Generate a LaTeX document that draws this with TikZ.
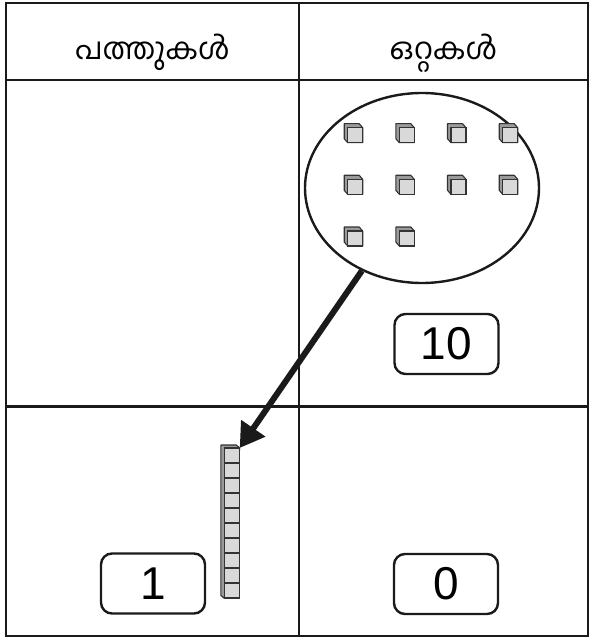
\documentclass[tikz,border=0pt]{standalone}
\usepackage{fontspec}
\setmainfont{Liberation Sans}
\newfontfamily\mlfont[Script=Malayalam]{Hind Kochi}
\usetikzlibrary{shapes.geometric,arrows.meta,calc}
\definecolor{cubelight}{HTML}{D9D9D9}
\definecolor{cubedark}{HTML}{9A9A9A}
\definecolor{cubeline}{HTML}{333333}
\definecolor{ink}{HTML}{1A1A1A}
\tikzset{
  gridline/.style={line width=2.4pt, draw=ink},
  numbox/.style={draw=ink, line width=2.4pt, rounded corners=11pt, minimum width=104pt, minimum height=60pt, inner sep=0pt, font=\fontsize{46}{46}\selectfont},
  headtext/.style={font=\mlfont\fontsize{30}{30}\selectfont, anchor=base, inner sep=0pt},
  cubeface/.style={fill=cubelight, draw=cubeline, line width=1.1pt},
  cubeback/.style={fill=cubedark, draw=cubeline, line width=1.1pt, line join=round},
  cube/.pic={
    \path[cubeback] (0,15) -- (-3.5,11) -- (-3.5,-4) -- (11.5,-4) -- (15,0) -- (15,15) -- cycle;
    \path[cubeface] (0,0) rectangle (15,15);
  }
}
\begin{document}
\begin{tikzpicture}[x=1pt,y=-1pt]
\useasboundingbox (0,0) rectangle (590,639);
\fill[white] (0,0) rectangle (590,639);
% table
\draw[gridline] (6,3) rectangle (588,636);
\draw[gridline] (299,3) -- (299,636);
\draw[gridline] (6,80) -- (588,80);
\draw[gridline] (6,406.5) -- (588,406.5);
% headers
\node[headtext] (h1) at (152.5,60) {പത്തുകൾ};
\node[headtext] (h2) at (443.5,60) {ഒറ്റകൾ};
% ellipse with ten cubes
\node[ellipse, draw=ink, line width=2.4pt, minimum width=234pt, minimum height=190pt, inner sep=0pt] (ell) at (422,188) {};
\foreach \x in {347.7,399.3,451,502.7}{
  \pic at (\x,127.7) {cube};
  \pic at (\x,179.3) {cube};
}
\pic at (347.7,231) {cube};
\pic at (399.3,231) {cube};
% rod of ten
\node[minimum width=15pt, minimum height=150pt, inner sep=0pt, anchor=north west] (rod) at (224.3,448) {};
\path[cubeback] (rod.south west) -- ++(-3.5,-3) -- ($(rod.north west)+(-3.5,-3)$) -- ($(rod.north east)+(-3.5,-3)$) -- (rod.north east) -- cycle;
\foreach \i in {0,...,9}
  \path[cubeface] ($(rod.north west)+(0,15*\i)$) rectangle ++(15,15);
% arrow
\draw[-{Triangle[length=24pt,width=28pt]}, line width=6pt, draw=ink, fill=ink] (ell.234.5) -- (rod.north east);
% number boxes
\node[numbox] (n10) at (446.5,344) {10};
\node[numbox] (n1) at (153,583.5) {1};
\node[numbox] (n0) at (446,584) {0};
\end{tikzpicture}
\end{document}
